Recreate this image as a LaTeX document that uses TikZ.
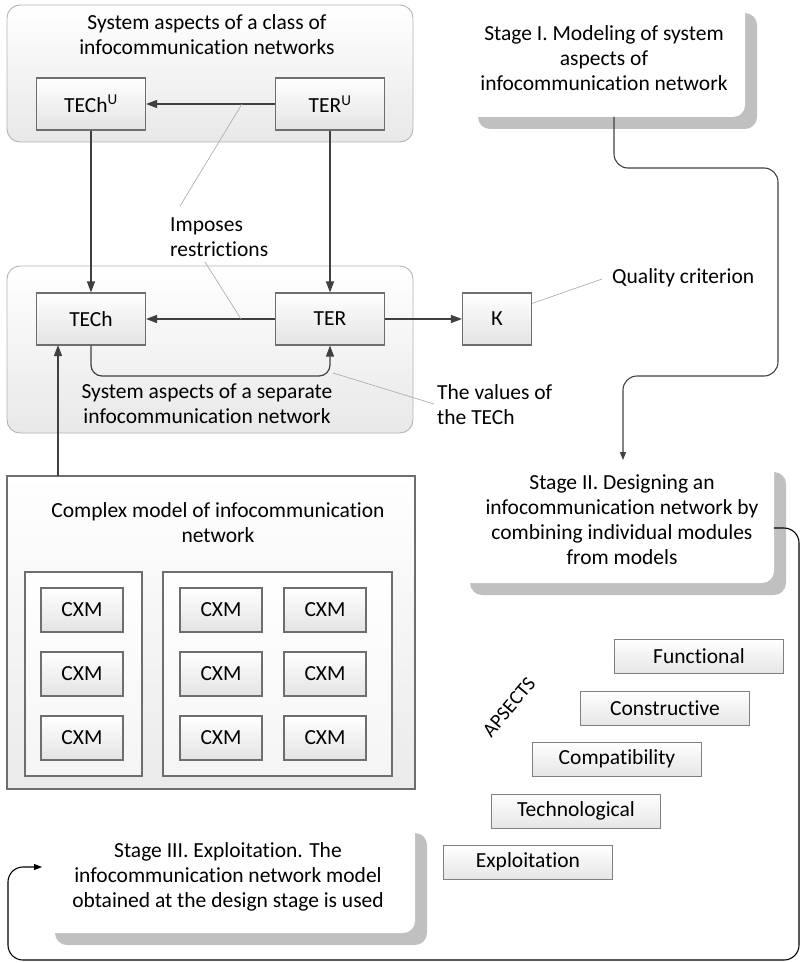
\documentclass[tikz,border=0pt]{standalone}
\usepackage{fontspec}
\setmainfont{Carlito}[Ligatures=NoCommon]
\usetikzlibrary{arrows.meta}

\definecolor{linegray}{HTML}{404040}
\definecolor{boxedge}{HTML}{6E6E6E}
\definecolor{grpedge}{HTML}{B4B4B4}
\definecolor{shadowgray}{HTML}{C0C0C0}
\definecolor{notegray}{HTML}{B0B0B0}

\newcommand{\dfont}{\fontsize{21.5}{25}\selectfont}

\tikzset{
  grp/.style={draw=grpedge, line width=0.9pt, rounded corners=13pt,
    top color=white, bottom color=black!9},
  frame/.style={draw=boxedge, line width=1.1pt,
    top color=white, bottom color=black!8},
  blk/.style={draw=boxedge, line width=1.1pt, top color=white,
    bottom color=black!11, minimum width=109pt, minimum height=52pt,
    inner sep=0pt, font=\dfont},
  cxm/.style={blk, minimum width=82pt, minimum height=44pt},
  asp/.style={draw=black!50, line width=0.9pt, top color=white,
    bottom color=black!10, minimum width=169pt, minimum height=34pt,
    inner sep=0pt, font=\dfont},
  txt/.style={font=\dfont, align=center, inner sep=0pt},
  ltxt/.style={font=\dfont, align=left, inner sep=0pt},
  arr/.style={draw=linegray, line width=1.2pt,
    -{Triangle[length=11pt,width=8pt]}},
  thinarr/.style={draw=black, line width=1.1pt,
    -{Triangle[length=8pt,width=6pt]}},
  note/.style={draw=notegray, line width=0.7pt},
  shadowbox/.style={fill=shadowgray, rounded corners=12pt},
  stagebox/.style={fill=white, rounded corners=12pt},
}

\begin{document}
\begin{tikzpicture}[x=1pt, y=-1pt]
\useasboundingbox (0,0) rectangle (801,963);

% ---------- system aspects of a class ----------
\draw[grp] (7,5) rectangle (413,142);
\node[txt] (classtitle) at (207,35) {System aspects of a class of\\infocommunication networks};
\node[blk] (techu) at (91,104) {TECh\textsuperscript{U}};
\node[blk] (teru) at (330,104) {TER\textsuperscript{U}};

% ---------- system aspects of a separate network ----------
\draw[grp] (7,266) rectangle (413,433);
\node[blk] (tech) at (91,319) {TECh};
\node[blk] (ter) at (330,319) {TER};
\node[blk, minimum width=69pt] (k) at (497,319) {К};
\node[txt] (septitle) at (207,404) {System aspects of a separate\\infocommunication network};

% arrows
\draw[arr] (teru) -- (techu);
\draw[arr] (techu) -- (tech);
\draw[arr] (teru) -- (ter);
\draw[arr] (ter) -- (tech);
\draw[arr] (ter) -- (k);
\draw[arr, rounded corners=11pt] (tech.south) -- (91,376) -- (330,376) -- (ter.south);

% annotations
\node[ltxt, anchor=west] (imposes) at (170,237) {Imposes\\restrictions};
\coordinate (r1) at (242,104);
\coordinate (r2) at (241,319);
\draw[note] (r1) -- (180,206);
\draw[note] (205,262) -- (r2);

\node[ltxt, anchor=west] (quality) at (612,278) {Quality criterion};
\draw[note] (k.north east) ++(0,11) -- (602,279);

\node[ltxt, anchor=west] (values) at (437,405) {The values of\\the TECh};
\coordinate (v1) at (333,373);
\draw[note] (v1) -- (434,404);

% ---------- complex model ----------
\draw[frame] (7,476) rectangle (415,789);
\node[txt] (cmtitle) at (218,523) {Complex model of infocommunication\\network};
\draw[frame, bottom color=black!4] (25,572) rectangle (142,776);
\draw[frame, bottom color=black!4] (163,572) rectangle (392,776);
\foreach \r/\y in {1/610,2/674,3/738}{
  \node[cxm] (cxa\r) at (82,\y) {CXM};
  \node[cxm] (cxb\r) at (221,\y) {CXM};
  \node[cxm] (cxc\r) at (325,\y) {CXM};
}
\coordinate (cmtop) at (58,476);
\draw[arr] (cmtop) -- (58,345);

% ---------- stages ----------
\fill[shadowbox] (478,13) rectangle (757,129);
\fill[stagebox] (466,1) rectangle (745,117);
\node[txt] (st1) at (604,58) {Stage I. Modeling of system\\aspects of\\infocommunication network};

\fill[shadowbox] (470,472) rectangle (786,595);
\fill[stagebox] (458,460) rectangle (774,583);
\node[txt] (st2) at (622,520) {Stage II. Designing an\\infocommunication network by\\combining individual modules\\from models};

\fill[shadowbox] (55,833) rectangle (427,945);
\fill[stagebox] (43,821) rectangle (415,933);
\node[txt] (st3) at (228,877) {Stage III. Exploitation. The\\infocommunication network model\\obtained at the design stage is used};

\coordinate (s1out) at (614,117);
\coordinate (s2in) at (623,460);
\draw[thinarr, draw=linegray, rounded corners=14pt]
  (s1out) -- (614,168) -- (778,168) -- (778,376) -- (623,376) -- (s2in);

\coordinate (s2out) at (774,528);
\coordinate (s3in) at (42,867);
\draw[thinarr, rounded corners=15pt]
  (s2out) -- (799,528) -- (799,960) -- (8,960) -- (8,867) -- (s3in);

% ---------- aspects ----------
\node[asp] (functional) at (699,656) {Functional};
\node[asp] (constructive) at (665,708) {Constructive};
\node[asp] (compat) at (617,759) {Compatibility};
\node[asp] (techno) at (576,811) {Technological};
\node[asp] (exploit) at (528,862) {Exploitation};
\node[font=\fontsize{20}{22}\selectfont, rotate=50, inner sep=0pt] (aspects) at (509,707) {APSECTS};

\end{tikzpicture}
\end{document}
